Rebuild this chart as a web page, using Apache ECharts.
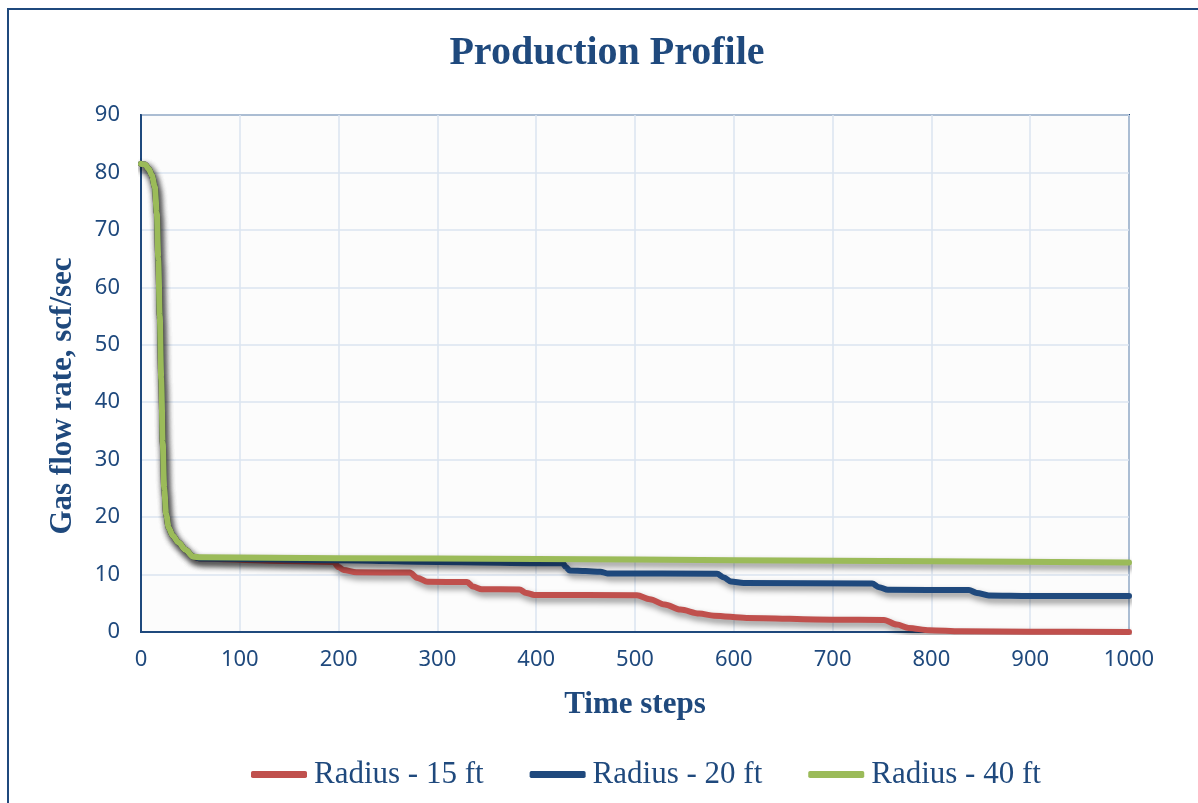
<!DOCTYPE html>
<html>
<head>
<meta charset="utf-8">
<title>Production Profile</title>
<script src="https://cdn.jsdelivr.net/npm/echarts@6/dist/echarts.min.js"></script>
<style>
  html, body { margin: 0; padding: 0; background: #ffffff; }
  #chart { width: 1198px; height: 803px; }
</style>
</head>
<body>
<div id="chart"></div>
<script>
// Gas production rate (scf/sec) against simulation time step for three wellbore radii
const seriesNames = ['Radius - 15 ft', 'Radius - 20 ft', 'Radius - 40 ft'];

// Shared early-time decline (all three radii coincide here)
const earlySteps = [0, 4, 8, 11, 14, 16, 17.5, 19, 20.5, 22, 23.5, 25.5, 28, 32, 38, 45, 53];
const earlyRates = [81.5, 81.4, 80.6, 79.5, 77.5, 73, 65, 55, 44, 33, 25, 20.5, 18.2, 16.8, 15.6, 14.3, 13.1];

// Radius - 15 ft, late time
const steps15 = [60, 130, 195, 200, 205, 218, 272, 280, 290, 330, 336, 345, 383, 390, 398, 502, 515, 530, 546, 565, 580, 613, 700, 752, 765, 777, 798, 830, 900, 1000];
const rates15 = [12.8, 12.4, 12.2, 11.3, 10.8, 10.4, 10.35, 9.4, 8.75, 8.7, 7.9, 7.45, 7.4, 6.8, 6.45, 6.4, 5.7, 4.8, 3.9, 3.2, 2.85, 2.45, 2.15, 2.1, 1.3, 0.7, 0.3, 0.12, 0.05, 0.0];

// Radius - 20 ft, late time
const steps20 = [60, 200, 300, 427, 430, 434, 450, 465, 472, 583, 590, 597, 610, 740, 747, 756, 838, 846, 858, 900, 1000];
const rates20 = [12.8, 12.5, 12.2, 11.95, 11.3, 10.7, 10.6, 10.5, 10.2, 10.15, 9.5, 8.8, 8.55, 8.45, 7.8, 7.35, 7.3, 6.8, 6.35, 6.25, 6.25];

// Radius - 40 ft, late time
const steps40 = [60, 200, 400, 600, 800, 1000];
const rates40 = [13.0, 12.85, 12.7, 12.5, 12.3, 12.1];

// Axis ticks
const xTicks = { min: 0, max: 1000, interval: 100 };
const yTicks = { min: 0, max: 90, interval: 10 };

const colors = ['#c0504d', '#1f497d', '#9bbb59'];
const textBlue = '#1f497d';

function pairs(xs, ys) {
  return xs.map((x, i) => [x, ys[i]]);
}
function fullSeries(xs, ys) {
  return pairs(earlySteps, earlyRates).concat(pairs(xs, ys));
}

const lineData = [
  fullSeries(steps15, rates15),
  fullSeries(steps20, rates20),
  fullSeries(steps40, rates40)
];

const chart = echarts.init(document.getElementById('chart'), null, { renderer: 'canvas' });

const option = {
  backgroundColor: '#ffffff',
  animation: false,
  grid: {
    left: 141, top: 115, right: 69, bottom: 171,
    show: true,
    backgroundColor: '#fcfcfc',
    borderColor: '#1f497d',
    borderWidth: 2
  },
  xAxis: {
    type: 'value',
    min: xTicks.min, max: xTicks.max, interval: xTicks.interval,
    axisLine: { show: true, lineStyle: { color: '#1f497d', width: 2 } },
    axisTick: { show: false },
    axisLabel: {
      color: textBlue, fontFamily: 'Noto Sans', fontSize: 22, margin: 17,
      formatter: v => String(v)
    },
    splitLine: { show: true, lineStyle: { color: '#dbe5f1', width: 1.5 } }
  },
  yAxis: {
    type: 'value',
    min: yTicks.min, max: yTicks.max, interval: yTicks.interval,
    axisLine: { show: true, lineStyle: { color: '#1f497d', width: 2 } },
    axisTick: { show: false },
    axisLabel: { color: textBlue, fontFamily: 'Noto Sans', fontSize: 22, margin: 21 },
    splitLine: { show: true, lineStyle: { color: '#dbe5f1', width: 1.5 } }
  },
  legend: {
    left: 246, top: 754,
    itemWidth: 56, itemHeight: 7, itemGap: 46,
    icon: 'roundRect',
    textStyle: { color: textBlue, fontFamily: 'Liberation Serif', fontSize: 31, padding: [0, 0, 0, 2] },
    data: seriesNames
  },
  series: seriesNames.map((name, i) => ({
    name: name,
    type: 'line',
    data: lineData[i],
    showSymbol: false,
    smooth: 0.3,
    smoothMonotone: 'x',
    z: 2 + i,
    itemStyle: { color: colors[i] },
    lineStyle: {
      color: colors[i],
      width: 6,
      cap: 'round',
      join: 'round',
      shadowColor: 'rgba(0,0,0,0.45)',
      shadowBlur: 6,
      shadowOffsetX: 2,
      shadowOffsetY: 4
    }
  })),
  graphic: [
    // Outer chart frame
    {
      type: 'rect', silent: true, z: -10,
      shape: { x: 8, y: 9, width: 1400, height: 1000 },
      style: { fill: 'none', stroke: '#1f497d', lineWidth: 2 }
    },
    // Chart title
    {
      type: 'text', silent: true,
      x: 607, y: 54,
      style: {
        text: 'Production Profile', fill: textBlue,
        font: 'bold 40px "Liberation Serif"',
        align: 'center', verticalAlign: 'middle'
      }
    },
    // X axis title
    {
      type: 'text', silent: true,
      x: 635, y: 705,
      style: {
        text: 'Time steps', fill: textBlue,
        font: 'bold 31px "Liberation Serif"',
        align: 'center', verticalAlign: 'middle'
      }
    },
    // Y axis title
    {
      type: 'text', silent: true,
      x: 63, y: 396, rotation: Math.PI / 2,
      style: {
        text: 'Gas flow rate, scf/sec', fill: textBlue,
        font: 'bold 31px "Liberation Serif"',
        align: 'center', verticalAlign: 'middle'
      }
    }
  ]
};

chart.setOption(option);
</script>
</body>
</html>
